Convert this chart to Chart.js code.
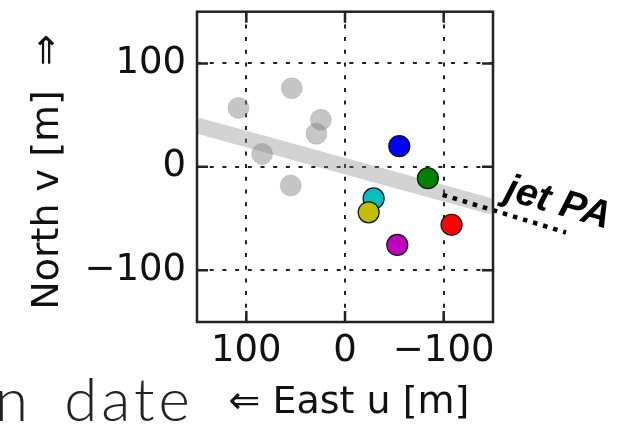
<!DOCTYPE html>
<html>
<head>
<meta charset="utf-8">
<script src="https://cdn.jsdelivr.net/npm/chart.js@4/dist/chart.umd.min.js"></script>
<style>
  html, body { margin: 0; padding: 0; background: #fff; }
  #wrap { width: 629px; height: 425px; }
</style>
</head>
<body>
<div id="wrap"><canvas id="uvChart" width="629" height="425"></canvas></div>
<script>
// ----------------- Data -----------------
const xTicks = [100, 0, -100];
const yTicks = [100, 0, -100];

// earlier epochs (grey)
const grayU = [108, 54, 24.5, 29, 84, 55];
const grayV = [57, 76, 45.5, 32, 12.5, -18];

// coloured epochs
const epochU = [-55, -84, -29, -24, -53, -108];
const epochV = [20, -11, -30.5, -44, -75.5, -56];
const epochColors = ['#0000ff', '#008000', '#00bfbf', '#bfbf00', '#bf00bf', '#ff0000'];

// jet position angle band + dotted extension
const bandU = [150, -150];
const bandV = [40, -38.5];
const jetU = [-99, -224];
const jetV = [-27, -63.5];

const toXY = (us, vs) => us.map((u, i) => ({ x: u, y: vs[i] }));
const fmt = v => (v < 0 ? '\u2212' + Math.abs(v) : String(v));

const FONT = "'DejaVu Sans', sans-serif";

// ----------------- Decorations -----------------
const frame = {
  id: 'frame',
  afterDraw(chart) {
    const { ctx, chartArea: a, scales } = chart;
    ctx.save();
    ctx.strokeStyle = '#222';
    ctx.lineWidth = 2.5;
    ctx.strokeRect(a.left, a.top, a.right - a.left, a.bottom - a.top);
    // inward ticks on all four sides
    const tl = 11;
    ctx.beginPath();
    xTicks.forEach(t => {
      const px = scales.x.getPixelForValue(t);
      ctx.moveTo(px, a.top); ctx.lineTo(px, a.top + tl);
      ctx.moveTo(px, a.bottom); ctx.lineTo(px, a.bottom - tl);
    });
    yTicks.forEach(t => {
      const py = scales.y.getPixelForValue(t);
      ctx.moveTo(a.left, py); ctx.lineTo(a.left + tl, py);
      ctx.moveTo(a.right, py); ctx.lineTo(a.right - tl, py);
    });
    ctx.stroke();

    ctx.fillStyle = '#111';
    // y axis title (rotated)
    ctx.font = '38px ' + FONT;
    ctx.save();
    ctx.translate(58, 172);
    ctx.rotate(-Math.PI / 2);
    ctx.textAlign = 'center';
    ctx.fillText('North v [m]  \u21D2', 0, 0);
    ctx.restore();
    // x axis title
    ctx.textAlign = 'center';
    ctx.fillText('\u21D0 East u [m]', 349, 413);

    // jet PA label
    ctx.save();
    ctx.translate(503, 199);
    ctx.rotate(16 * Math.PI / 180);
    ctx.textAlign = 'left';
    ctx.font = "italic bold 39px 'Liberation Sans', sans-serif";
    ctx.fillStyle = '#000';
    ctx.fillText('jet PA', 0, 0);
    ctx.restore();

    // cut-off caption at bottom left
    ctx.textAlign = 'left';
    ctx.font = "300 60px Lato, 'Open Sans', sans-serif";
    ctx.letterSpacing = '4px';
    ctx.wordSpacing = '12px';
    ctx.fillStyle = '#222';
    ctx.fillText('n date', -5, 421);
    ctx.restore();
  }
};

// ----------------- Chart -----------------
const ctx = document.getElementById('uvChart').getContext('2d');
new Chart(ctx, {
  type: 'scatter',
  data: {
    datasets: [
      {
        label: 'epochs',
        data: toXY(epochU, epochV),
        backgroundColor: epochColors,
        borderColor: '#111',
        borderWidth: 1.2,
        pointRadius: 10.5,
        order: 1
      },
      {
        type: 'line',
        label: 'jet PA',
        data: toXY(jetU, jetV),
        borderColor: '#000',
        borderWidth: 4.5,
        borderDash: [4.5, 6],
        borderCapStyle: 'butt',
        pointRadius: 0,
        fill: false,
        clip: false,
        order: 3
      },
      {
        label: 'earlier',
        data: toXY(grayU, grayV),
        backgroundColor: 'rgba(128,128,128,0.45)',
        borderColor: 'rgba(128,128,128,0.25)',
        borderWidth: 1,
        pointRadius: 10.5,
        order: 4
      },
      {
        type: 'line',
        label: 'band',
        data: toXY(bandU, bandV),
        borderColor: 'rgba(128,128,128,0.35)',
        borderWidth: 16,
        borderCapStyle: 'butt',
        pointRadius: 0,
        fill: false,
        clip: 0,
        order: 5
      }
    ]
  },
  options: {
    responsive: false,
    animation: false,
    layout: { padding: { left: 0, top: 8, right: 136, bottom: 0 } },
    plugins: {
      legend: { display: false },
      tooltip: { enabled: false }
    },
    scales: {
      x: {
        type: 'linear',
        min: -150,
        max: 150,
        reverse: true,
        afterBuildTicks: s => { s.ticks = xTicks.map(v => ({ value: v })); },
        afterFit: s => { s.height = 103; s.paddingLeft = 0; s.paddingRight = 0; },
        grid: { color: '#222', lineWidth: 2, drawTicks: false },
        border: { display: false, dash: [4, 8.7] },
        ticks: {
          padding: 7,
          color: '#111',
          font: { family: FONT, size: 37 },
          callback: fmt,
          maxRotation: 0
        }
      },
      y: {
        type: 'linear',
        min: -150,
        max: 150,
        afterBuildTicks: s => { s.ticks = yTicks.map(v => ({ value: v })); },
        afterFit: s => { s.width = 197; s.paddingTop = 0; s.paddingBottom = 0; },
        grid: { color: '#222', lineWidth: 2, drawTicks: false },
        border: { display: false, dash: [4, 8.7] },
        ticks: {
          padding: 11,
          color: '#111',
          font: { family: FONT, size: 37 },
          callback: fmt
        }
      }
    }
  },
  plugins: [frame]
});
</script>
</body>
</html>
